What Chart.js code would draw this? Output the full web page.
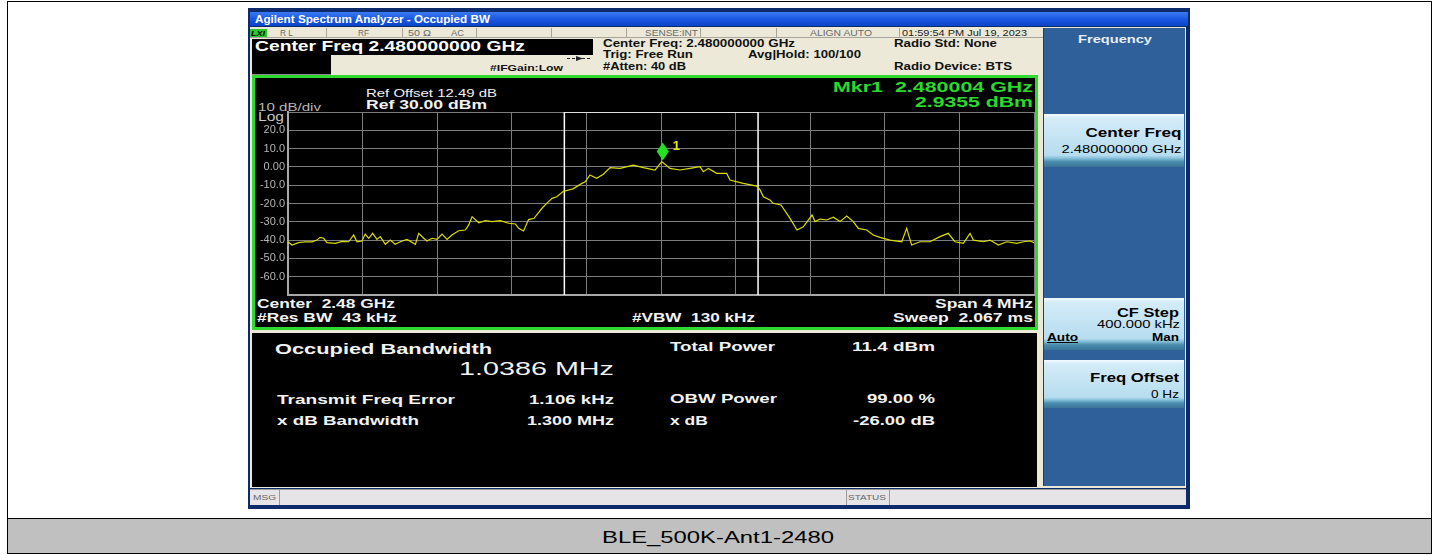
<!DOCTYPE html>
<html>
<head>
<meta charset="utf-8">
<script src="https://cdn.jsdelivr.net/npm/chart.js@4.4.0/dist/chart.umd.min.js"></script>
<style>
  html, body { margin: 0; padding: 0; background: #fff; }
  #wrap { position: relative; width: 1438px; height: 555px; overflow: hidden; }
  #ui { position: absolute; left: 0; top: 0; }
  #spec { position: absolute; left: 252px; top: 108px; }
  text { font-family: "Liberation Sans", Arial, sans-serif; white-space: pre; }
</style>
</head>
<body>
<div id="wrap">
<svg id="ui" width="1438" height="555" xmlns="http://www.w3.org/2000/svg">
  <defs>
    <linearGradient id="titleg" x1="0" y1="0" x2="0" y2="1">
      <stop offset="0" stop-color="#3b7af2"/>
      <stop offset="0.5" stop-color="#1a59e0"/>
      <stop offset="1" stop-color="#0b45c8"/>
    </linearGradient>
    <linearGradient id="btng" x1="0" y1="0" x2="0" y2="1">
      <stop offset="0" stop-color="#f4fbff"/>
      <stop offset="0.08" stop-color="#d4ecf8"/>
      <stop offset="0.78" stop-color="#b6dcef"/>
      <stop offset="0.84" stop-color="#7fbcd6"/>
      <stop offset="0.9" stop-color="#4a8bad"/>
      <stop offset="1" stop-color="#3a7598"/>
    </linearGradient>
  </defs>

  <!-- table frame + caption -->
  <rect x="7.5" y="1.5" width="1424" height="552" fill="#fff" stroke="#000"/>
  <rect x="8" y="519" width="1423" height="34" fill="#c0c0c0"/>
  <line x1="7.5" y1="518.5" x2="1431.5" y2="518.5" stroke="#000"/>
  <text x="718" y="543" text-anchor="middle" font-size="17" fill="#000" textLength="232" lengthAdjust="spacingAndGlyphs">BLE_500K-Ant1-2480</text>

  <!-- analyzer window -->
  <rect x="248" y="8" width="942" height="501" fill="#0d2a6b"/>
  <rect x="250" y="12" width="938" height="14" fill="url(#titleg)"/>
  <text x="255" y="23" font-size="10" font-weight="bold" fill="#fff" textLength="235" lengthAdjust="spacingAndGlyphs">Agilent Spectrum Analyzer - Occupied BW</text>
  <rect x="250" y="27" width="936" height="461" fill="#ece9d8"/>

  <!-- status row -->
  <g stroke="#a8a49a" stroke-width="1">
    <line x1="250" y1="37.5" x2="1043" y2="37.5"/>
    <line x1="326.5" y1="28" x2="326.5" y2="37"/>
    <line x1="402.5" y1="28" x2="402.5" y2="37"/>
    <line x1="476.5" y1="28" x2="476.5" y2="37"/>
    <line x1="551.5" y1="28" x2="551.5" y2="37"/>
    <line x1="626.5" y1="28" x2="626.5" y2="37"/>
    <line x1="700.5" y1="28" x2="700.5" y2="37"/>
    <line x1="776.5" y1="28" x2="776.5" y2="37"/>
    <line x1="899.5" y1="28" x2="899.5" y2="37"/>
  </g>
  <rect x="250" y="29" width="17" height="8" fill="#2bc82b"/>
  <text x="251" y="36" font-size="8" font-weight="bold" font-style="italic" fill="#000" textLength="14" lengthAdjust="spacingAndGlyphs">LXI</text>
  <g font-size="8.5" fill="#6a6a6a">
    <text x="280" y="36" textLength="13" lengthAdjust="spacingAndGlyphs">R L</text>
    <text x="358" y="36" textLength="11" lengthAdjust="spacingAndGlyphs">RF</text>
    <text x="408" y="36" textLength="23" lengthAdjust="spacingAndGlyphs">50 Ω</text>
    <text x="451" y="36" textLength="13" lengthAdjust="spacingAndGlyphs">AC</text>
    <text x="645" y="36" textLength="53" lengthAdjust="spacingAndGlyphs">SENSE:INT</text>
    <text x="810" y="36" textLength="62" lengthAdjust="spacingAndGlyphs">ALIGN AUTO</text>
  </g>
  <text x="902" y="36" font-size="8.5" fill="#222" textLength="125" lengthAdjust="spacingAndGlyphs">01:59:54 PM Jul 19, 2023</text>

  <!-- center freq header -->
  <rect x="252" y="39" width="341" height="16" fill="#000"/>
  <text x="255" y="51" font-size="15" font-weight="bold" fill="#fff" textLength="270" lengthAdjust="spacingAndGlyphs">Center Freq 2.480000000 GHz</text>
  <rect x="252" y="55" width="79" height="19" fill="#000"/>
  <line x1="252" y1="74.5" x2="331" y2="74.5" stroke="#8a8a8a"/>
  <text x="490" y="71" font-size="9.5" font-weight="bold" fill="#111" textLength="73" lengthAdjust="spacingAndGlyphs">#IFGain:Low</text>
  <line x1="567" y1="58.5" x2="591" y2="58.5" stroke="#222" stroke-dasharray="3 2"/>
  <path d="M576 56 L583 58.5 L576 61 Z" fill="#222"/>
  <g font-size="10.5" font-weight="bold" fill="#111">
    <text x="603" y="47" textLength="192" lengthAdjust="spacingAndGlyphs">Center Freq: 2.480000000 GHz</text>
    <text x="603" y="58" textLength="90" lengthAdjust="spacingAndGlyphs">Trig: Free Run</text>
    <text x="603" y="70" textLength="83" lengthAdjust="spacingAndGlyphs">#Atten: 40 dB</text>
    <text x="748" y="58" textLength="113" lengthAdjust="spacingAndGlyphs">Avg|Hold: 100/100</text>
    <text x="894" y="47" textLength="103" lengthAdjust="spacingAndGlyphs">Radio Std: None</text>
    <text x="894" y="70" textLength="118" lengthAdjust="spacingAndGlyphs">Radio Device: BTS</text>
  </g>

  <!-- graph frame -->
  <rect x="253.5" y="76.5" width="783" height="252" fill="#000" stroke="#2fd92f" stroke-width="3"/>
  <text x="366" y="97" font-size="11" fill="#f2f2f2" textLength="131" lengthAdjust="spacingAndGlyphs">Ref Offset 12.49 dB</text>
  <text x="366" y="109" font-size="13" font-weight="bold" fill="#f2f2f2" textLength="121" lengthAdjust="spacingAndGlyphs">Ref 30.00 dBm</text>
  <text x="258" y="110.5" font-size="11" fill="#b8b8b8" textLength="63" lengthAdjust="spacingAndGlyphs">10 dB/div</text>
  <text x="258" y="121" font-size="12" fill="#c8c8c8" textLength="26" lengthAdjust="spacingAndGlyphs">Log</text>
  <g font-size="15" font-weight="bold" fill="#2bd82b" text-anchor="end">
    <text x="1033" y="91.5" textLength="200" lengthAdjust="spacingAndGlyphs">Mkr1  2.480004 GHz</text>
    <text x="1033" y="106.5" textLength="118" lengthAdjust="spacingAndGlyphs">2.9355 dBm</text>
  </g>
  <g font-size="13" font-weight="bold" fill="#f2f2f2">
    <text x="257" y="308" textLength="138" lengthAdjust="spacingAndGlyphs">Center  2.48 GHz</text>
    <text x="257" y="321.7" textLength="140" lengthAdjust="spacingAndGlyphs">#Res BW  43 kHz</text>
    <text x="632" y="321.7" textLength="123" lengthAdjust="spacingAndGlyphs">#VBW  130 kHz</text>
    <text x="1033" y="308" text-anchor="end" textLength="98" lengthAdjust="spacingAndGlyphs">Span 4 MHz</text>
    <text x="1033" y="321.7" text-anchor="end" textLength="140" lengthAdjust="spacingAndGlyphs">Sweep  2.067 ms</text>
  </g>

  <!-- measurement results -->
  <rect x="252" y="333" width="785" height="154" fill="#000"/>
  <g fill="#f2f2f2" font-weight="bold">
    <text x="275" y="353.5" font-size="15" textLength="217" lengthAdjust="spacingAndGlyphs">Occupied Bandwidth</text>
    <text x="459" y="375" font-size="19" font-weight="normal" textLength="155" lengthAdjust="spacingAndGlyphs">1.0386 MHz</text>
    <text x="277" y="404" font-size="13" textLength="178" lengthAdjust="spacingAndGlyphs">Transmit Freq Error</text>
    <text x="614" y="404" font-size="13" text-anchor="end" textLength="85" lengthAdjust="spacingAndGlyphs">1.106 kHz</text>
    <text x="277" y="425" font-size="13" textLength="142" lengthAdjust="spacingAndGlyphs">x dB Bandwidth</text>
    <text x="614" y="425" font-size="13" text-anchor="end" textLength="87" lengthAdjust="spacingAndGlyphs">1.300 MHz</text>
    <text x="670" y="350.7" font-size="13" textLength="105" lengthAdjust="spacingAndGlyphs">Total Power</text>
    <text x="935" y="350.7" font-size="13" text-anchor="end" textLength="83" lengthAdjust="spacingAndGlyphs">11.4 dBm</text>
    <text x="670" y="403.3" font-size="13" textLength="107" lengthAdjust="spacingAndGlyphs">OBW Power</text>
    <text x="935" y="403.3" font-size="13" text-anchor="end" textLength="68" lengthAdjust="spacingAndGlyphs">99.00 %</text>
    <text x="670" y="425" font-size="13" textLength="38" lengthAdjust="spacingAndGlyphs">x dB</text>
    <text x="935" y="425" font-size="13" text-anchor="end" textLength="82" lengthAdjust="spacingAndGlyphs">-26.00 dB</text>
  </g>

  <!-- softkey panel -->
  <rect x="1043" y="28" width="142" height="458" fill="#30609a"/>
  <line x1="1043.5" y1="28" x2="1043.5" y2="486" stroke="#1d3f6b"/>
  <text x="1078" y="42.5" font-size="11.5" font-weight="bold" fill="#e8eef8" textLength="74" lengthAdjust="spacingAndGlyphs">Frequency</text>
  <rect x="1044" y="114" width="140" height="53" fill="url(#btng)"/>
  <text x="1181.5" y="137" font-size="13" font-weight="bold" fill="#000" text-anchor="end" textLength="96" lengthAdjust="spacingAndGlyphs">Center Freq</text>
  <text x="1181.5" y="152.7" font-size="11" fill="#000" text-anchor="end" textLength="120" lengthAdjust="spacingAndGlyphs">2.480000000 GHz</text>
  <rect x="1044" y="298" width="140" height="52" fill="url(#btng)"/>
  <text x="1179" y="317" font-size="13" font-weight="bold" fill="#000" text-anchor="end" textLength="62" lengthAdjust="spacingAndGlyphs">CF Step</text>
  <text x="1180" y="328" font-size="11" fill="#000" text-anchor="end" textLength="83" lengthAdjust="spacingAndGlyphs">400.000 kHz</text>
  <text x="1047" y="340.7" font-size="11" font-weight="bold" fill="#000" textLength="31" lengthAdjust="spacingAndGlyphs">Auto</text>
  <line x1="1047" y1="342.5" x2="1078" y2="342.5" stroke="#000"/>
  <text x="1179" y="340.7" font-size="11" font-weight="bold" fill="#000" text-anchor="end" textLength="27" lengthAdjust="spacingAndGlyphs">Man</text>
  <rect x="1044" y="360" width="140" height="48" fill="url(#btng)"/>
  <text x="1179" y="382" font-size="13" font-weight="bold" fill="#000" text-anchor="end" textLength="89" lengthAdjust="spacingAndGlyphs">Freq Offset</text>
  <text x="1179" y="398" font-size="11" fill="#000" text-anchor="end" textLength="28" lengthAdjust="spacingAndGlyphs">0 Hz</text>

  <!-- bottom status bar -->
  <rect x="250" y="489" width="936" height="16" fill="#e6e4e6"/>
  <line x1="250" y1="489.5" x2="1186" y2="489.5" stroke="#9a9a9a"/>
  <line x1="279.5" y1="489" x2="279.5" y2="505" stroke="#9a9a9a"/>
  <line x1="846.5" y1="489" x2="846.5" y2="505" stroke="#9a9a9a"/>
  <line x1="889.5" y1="489" x2="889.5" y2="505" stroke="#9a9a9a"/>
  <text x="253" y="500" font-size="8" fill="#666" textLength="23" lengthAdjust="spacingAndGlyphs">MSG</text>
  <text x="848" y="500" font-size="8" fill="#666" textLength="38" lengthAdjust="spacingAndGlyphs">STATUS</text>
</svg>
<canvas id="spec" width="786" height="192"></canvas>
</div>

<script>
// trace: frequency offset from 2.48 GHz (MHz) and level (dBm)
const freqOffset = [
  -2.000, -1.979, -1.943, -1.909, -1.871, -1.845, -1.828, -1.809, -1.791, -1.746,
  -1.710, -1.675, -1.648, -1.630, -1.603, -1.586, -1.567, -1.546, -1.523, -1.505,
  -1.478, -1.452, -1.425, -1.398, -1.362, -1.317, -1.299, -1.272, -1.255, -1.228,
  -1.201, -1.174, -1.147, -1.121, -1.085, -1.049, -1.031, -1.013, -0.977, -0.942,
  -0.906, -0.862, -0.817, -0.781, -0.763, -0.737, -0.710, -0.681, -0.638, -0.613,
  -0.584, -0.559, -0.525, -0.472, -0.424, -0.406, -0.381, -0.345, -0.309, -0.273,
  -0.220, -0.149, -0.095, -0.032, 0.004, 0.048, 0.102, 0.155, 0.209, 0.227,
  0.254, 0.299, 0.352, 0.370, 0.441, 0.513, 0.531, 0.549, 0.584, 0.602,
  0.643, 0.674, 0.692, 0.729, 0.763, 0.810, 0.826, 0.853, 0.888, 0.924,
  0.960, 0.996, 1.031, 1.058, 1.103, 1.138, 1.174, 1.228, 1.291, 1.317,
  1.344, 1.389, 1.442, 1.496, 1.540, 1.576, 1.621, 1.657, 1.675, 1.729,
  1.764, 1.809, 1.854, 1.907, 1.943, 1.979, 2.000
];
const level = [
  -40.9, -42.7, -41.4, -40.9, -41.0, -40.0, -38.5, -39.0, -41.4, -41.8,
  -40.7, -40.9, -37.2, -40.9, -40.5, -36.7, -39.0, -36.3, -39.6, -38.1,
  -42.3, -40.0, -42.3, -40.9, -39.6, -42.3, -36.3, -39.0, -40.5, -39.0,
  -39.6, -36.7, -39.6, -37.2, -34.9, -34.5, -31.7, -27.2, -30.5, -29.4,
  -29.9, -29.4, -30.8, -31.2, -33.6, -35.0, -28.8, -28.1, -22.6, -19.9,
  -17.2, -16.3, -13.4, -12.0, -9.0, -8.1, -4.4, -6.2, -4.0, -0.4,
  -0.8, 1.0, -0.4, -1.7, 2.9, -0.8, -1.7, -0.8, 0.1, -2.6,
  -0.8, -3.5, -3.5, -7.2, -9.0, -10.5, -12.6, -16.3, -18.1, -19.9,
  -20.8, -25.4, -28.1, -34.5, -32.7, -26.3, -29.9, -28.5, -29.0, -27.5,
  -29.9, -26.8, -29.9, -33.6, -34.5, -37.2, -38.5, -40.0, -40.9, -33.6,
  -42.7, -40.9, -40.9, -38.1, -36.3, -40.9, -41.8, -36.3, -40.0, -40.9,
  -40.0, -42.7, -40.9, -41.8, -40.9, -40.5, -41.4
];

// marker 1 and occupied bandwidth (MHz)
const markerFreq = 0.004;
const markerLevel = 2.9355;
const obwWidth = 1.0386;
const obwCenter = 0.001106;

const refLevel = 30;
const dbPerDiv = 10;
const spanMHz = 4;

const obwLo = obwCenter - obwWidth / 2;
const obwHi = obwCenter + obwWidth / 2;
const bottomLevel = refLevel - 10 * dbPerDiv;

const markerPlugin = {
  id: 'marker',
  afterDatasetsDraw(chart) {
    const ctx = chart.ctx;
    const x = chart.scales.x.getPixelForValue(markerFreq);
    const y = chart.scales.y.getPixelForValue(markerLevel);
    ctx.save();
    ctx.fillStyle = '#22e022';
    ctx.beginPath();
    ctx.moveTo(x + 1, y - 19);
    ctx.lineTo(x + 7, y - 10);
    ctx.lineTo(x + 1, y - 1);
    ctx.lineTo(x - 5, y - 10);
    ctx.closePath();
    ctx.fill();
    ctx.fillStyle = '#e6e600';
    ctx.font = 'bold 13px "Liberation Sans", Arial, sans-serif';
    ctx.fillText('1', x + 11, y - 12);
    ctx.restore();
  }
};

new Chart(document.getElementById('spec').getContext('2d'), {
  type: 'line',
  data: {
    datasets: [{
      data: freqOffset.map((f, i) => ({ x: f, y: level[i] })),
      borderColor: '#dcdc00',
      borderWidth: 1.2,
      pointRadius: 0,
      tension: 0
    }, {
      data: [
        { x: obwLo, y: bottomLevel }, { x: obwLo, y: refLevel },
        { x: obwHi, y: refLevel }, { x: obwHi, y: bottomLevel }
      ],
      borderColor: '#ffffff',
      borderWidth: 1.5,
      pointRadius: 0,
      tension: 0
    }]
  },
  options: {
    responsive: false,
    animation: false,
    devicePixelRatio: 1,
    layout: { padding: { top: 4, right: 4, bottom: 5, left: 0 } },
    plugins: { legend: { display: false }, tooltip: { enabled: false } },
    scales: {
      x: {
        type: 'linear',
        min: -spanMHz / 2,
        max: spanMHz / 2,
        ticks: { display: false, stepSize: spanMHz / 10 },
        grid: { color: '#7c7c7c', lineWidth: 1, drawTicks: false },
        border: { color: '#a8a8a8', width: 2 },
        afterFit: s => { s.height = 0; s.paddingLeft = 0; s.paddingRight = 0; }
      },
      y: {
        min: bottomLevel,
        max: refLevel,
        ticks: {
          stepSize: dbPerDiv,
          padding: 3,
          color: '#b4b4b4',
          font: { family: '"Liberation Sans", Arial, sans-serif', size: 11 },
          callback: v => (v === refLevel || v === bottomLevel) ? '' : (v === 0 ? '0.00' : v.toFixed(1))
        },
        grid: { color: '#7c7c7c', lineWidth: 1, drawTicks: false },
        border: { color: '#a8a8a8', width: 2 },
        afterFit: s => { s.width = 36; s.paddingTop = 0; s.paddingBottom = 0; }
      }
    }
  },
  plugins: [markerPlugin]
});
</script>
</body>
</html>
